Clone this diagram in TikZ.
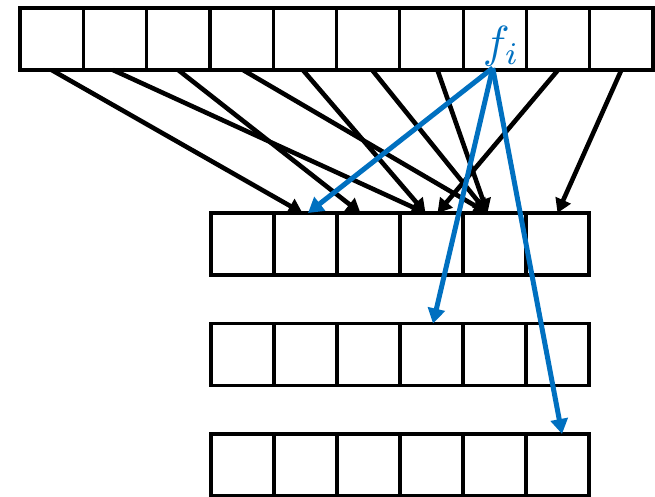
\documentclass[tikz,border=0pt]{standalone}
\usetikzlibrary{arrows.meta}
\definecolor{fblue}{HTML}{0070C0}
\begin{document}
\begin{tikzpicture}[x=1pt,y=-1pt,
  cellbox/.style={draw=black,line width=3.2pt,minimum width=63.3pt,minimum height=62pt,inner sep=0pt,outer sep=0pt},
  cellsix/.style={cellbox,minimum width=63pt},
  arr/.style={line width=4.6pt,-{Triangle[length=14pt,width=16pt]}},
  barr/.style={fblue,line width=5pt,-{Triangle[length=15pt,width=17pt]}}]
\useasboundingbox (0,0) rectangle (655,497);
\foreach \k in {1,...,10}{
  \node[cellbox] (t\k) at ({20+63.3*(\k-0.5)},39) {};
}
\foreach \k in {1,...,6}{
  \node[cellsix] (a\k) at ({211+63*(\k-0.5)},244) {};
  \node[cellsix] (b\k) at ({211+63*(\k-0.5)},354.5) {};
  \node[cellsix] (c\k) at ({211+63*(\k-0.5)},465) {};
}
\node[fblue,anchor=base west,inner sep=0pt,scale=4.5] (fi) at (482,58) {$f_i$};
% black connectors
\draw[arr] (t1.south) -- ([xshift=-3pt]a2.north);
\draw[arr] ([xshift=-2pt]t2.south) -- ([xshift=-6pt]a4.north);
\draw[arr] (t3.south) -- ([xshift=-8pt]a3.north);
\draw[arr] ([xshift=1.5pt]t4.south) -- ([xshift=-7pt]a5.north);
\draw[arr] ([xshift=-2pt]t5.south) -- ([xshift=-6pt]a4.north);
\draw[arr] ([xshift=4pt]t6.south) -- ([xshift=-7pt]a5.north);
\draw[arr] ([xshift=6pt]t7.south) -- ([xshift=-7pt]a5.north);
\draw[arr] (t9.south) -- ([xshift=6pt]a4.north);
\draw[arr] (t10.south) -- (a6.north);
% blue connectors
\draw[barr] ([xshift=-2pt,yshift=2pt]t8.south) -- ([xshift=2.5pt]a2.north);
\draw[barr] ([xshift=-2pt,yshift=2pt]t8.south) -- ([xshift=1.5pt]b4.north);
\draw[barr] ([xshift=-2pt,yshift=2pt]t8.south) -- ([xshift=4.5pt]c6.north);
\end{tikzpicture}
\end{document}
